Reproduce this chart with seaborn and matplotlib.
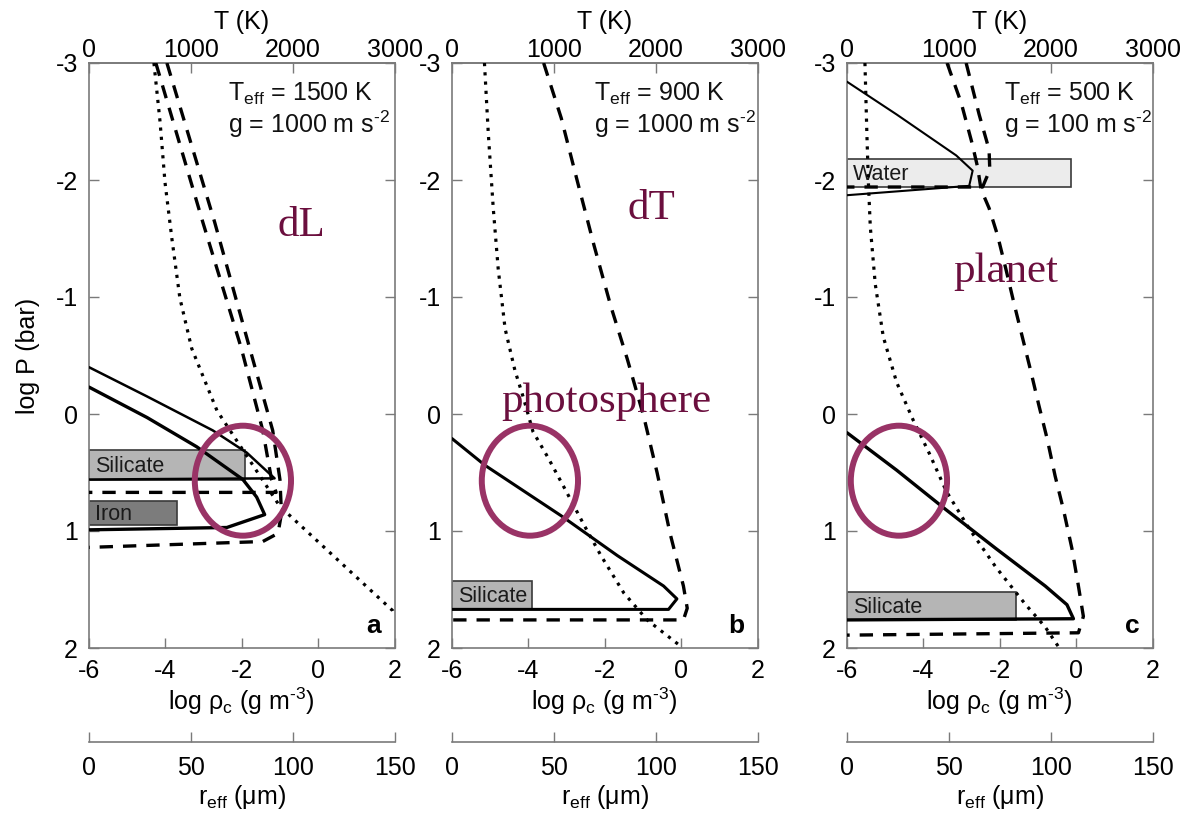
import matplotlib
matplotlib.use("Agg")
import matplotlib.pyplot as plt
import seaborn as sns
from matplotlib.patches import Ellipse, Rectangle

sns.set_style("ticks")
plt.rcParams["font.family"] = ["Liberation Sans", "DejaVu Sans"]
plt.rcParams["mathtext.fontset"] = "custom"
plt.rcParams["mathtext.rm"] = "Liberation Sans"
plt.rcParams["mathtext.it"] = "Liberation Sans:italic"
plt.rcParams["mathtext.bf"] = "Liberation Sans:bold"
plt.rcParams["axes.unicode_minus"] = False
plt.rcParams["text.color"] = "black"
plt.rcParams["axes.labelcolor"] = "black"

# ---------------- data (x = log rho_c, y = log P) ----------------
# panel a  (Teff = 1500 K, g = 1000)
a_dot_x = [-4.30, -4.14, -4.01, -3.83, -3.62, -3.31, -2.65, -1.00, 1.95, 2.00]
a_dot_y = [-3.00, -2.50, -1.98, -1.50, -0.99, -0.56, -0.03, 0.79, 1.68, 1.72]
a_dash1_x = [-4.25, -3.02, -2.01, -1.45, -1.22, -1.10, -6.00]
a_dash1_y = [-3.00, -1.64, -0.56, 0.14, 0.56, 0.67, 0.67]
a_dash2_x = [-3.96, -2.71, -1.79, -1.19, -1.00, -0.96, -1.05, -1.45, -6.00]
a_dash2_y = [-3.00, -1.64, -0.56, 0.14, 0.56, 0.85, 1.02, 1.09, 1.14]
a_sol1_x = [-6.00, -4.48, -2.76, -1.87, -1.14, -6.00]
a_sol1_y = [-0.40, -0.15, 0.14, 0.33, 0.55, 0.56]
a_sol2_x = [-6.00, -4.48, -3.18, -1.97, -1.61, -1.40, -2.39, -6.00]
a_sol2_y = [-0.23, 0.03, 0.28, 0.56, 0.71, 0.86, 0.97, 0.99]

# panel b  (Teff = 900 K, g = 1000)
b_dot_x = [-5.15, -5.05, -4.92, -4.79, -4.61, -4.35, -4.14, -3.88, -3.49, -3.06, -2.54, -2.10, -1.50, -0.89, -0.03]
b_dot_y = [-3.00, -2.40, -1.76, -1.24, -0.73, -0.37, -0.15, 0.15, 0.37, 0.63, 0.95, 1.21, 1.53, 1.76, 1.98]
b_dash_x = [-3.60, -3.14, -2.71, -2.28, -1.84, -1.41, -0.98, -0.63, -0.29, 0.06, 0.16, 0.06, -6.00]
b_dash_y = [-3.00, -2.53, -1.98, -1.44, -0.92, -0.47, 0.02, 0.50, 1.02, 1.47, 1.66, 1.76, 1.76]
b_sol_x = [-6.00, -5.13, -3.14, -1.67, -0.46, -0.11, -0.33, -6.00]
b_sol_y = [0.21, 0.44, 0.87, 1.21, 1.47, 1.58, 1.67, 1.67]

# panel c  (Teff = 500 K, g = 100)
c_dot_x = [-5.53, -5.48, -5.44, -5.39, -5.26, -5.05, -4.70, -4.27, -3.84, -3.40, -2.80, -2.10, -1.32, -0.81, -0.44]
c_dot_y = [-3.00, -2.40, -1.98, -1.60, -1.11, -0.66, -0.27, 0.05, 0.34, 0.66, 0.98, 1.31, 1.63, 1.82, 2.00]
c_dash1_x = [-3.38, -3.01, -2.73, -2.58, -2.49, -2.28, -2.06, -1.84, -1.63, -1.41, -1.19, -0.98, -0.76, -0.55, -0.33, -0.11, 0.06, 0.19, 0.06, -6.00]
c_dash1_y = [-3.00, -2.66, -2.32, -2.11, -1.92, -1.76, -1.53, -1.24, -0.95, -0.66, -0.37, -0.08, 0.21, 0.53, 0.82, 1.15, 1.47, 1.73, 1.87, 1.89]
c_dash2_x = [-2.88, -2.54, -2.28, -2.26, -2.32, -2.45, -6.00]
c_dash2_y = [-3.00, -2.56, -2.26, -2.08, -2.04, -1.94, -1.94]
c_sol1_x = [-6.00, -4.70, -3.14, -2.71, -2.80, -6.00]
c_sol1_y = [-2.84, -2.56, -2.21, -2.08, -1.95, -1.87]
c_sol2_x = [-6.00, -4.70, -3.40, -2.10, -0.81, -0.24, -0.07, -6.00]
c_sol2_y = [0.16, 0.48, 0.82, 1.15, 1.47, 1.63, 1.75, 1.76]

# condensate boxes: (label, x_right, y_top, y_bottom)
a_boxes = [("Silicate", -1.92, 0.31, 0.56), ("Iron", -3.70, 0.74, 0.95)]
b_boxes = [("Silicate", -3.90, 1.43, 1.67)]
c_boxes = [("Water", -0.14, -2.18, -1.94), ("Silicate", -1.57, 1.52, 1.76)]
box_colors = {"Silicate": "#b5b5b5", "Iron": "#7c7c7c", "Water": "#ececec"}

teff_labels = ["1500", "900", "500"]
g_labels = ["1000", "1000", "100"]
panel_letters = ["a", "b", "c"]
overlay_words = ["dL", "dT", "planet"]

y_ticks = [-3, -2, -1, 0, 1, 2]
x_ticks = [-6, -4, -2, 0, 2]
T_ticks = [0, 1000, 2000, 3000]
r_ticks = [0, 50, 100, 150]

# ---------------- figure ----------------
W, H = 1185, 818
fig = plt.figure(figsize=(W / 100, H / 100), dpi=100)
GRAY = "#7a7a7a"
MAROON_LINE = "#993366"
MAROON_TEXT = "#6b0f3e"
HYPH = "\u2010"

lefts = [89, 452, 847]
width_px = 305.5
top_px, bot_px = 63, 648

panels = [
    dict(dots=[(a_dot_x, a_dot_y)],
         dashes=[(a_dash1_x, a_dash1_y), (a_dash2_x, a_dash2_y)],
         solids=[(a_sol1_x, a_sol1_y, 1.8), (a_sol2_x, a_sol2_y, 2.4)],
         boxes=a_boxes, tx=-2.37, ell=(-1.97, 0.57)),
    dict(dots=[(b_dot_x, b_dot_y)],
         dashes=[(b_dash_x, b_dash_y)],
         solids=[(b_sol_x, b_sol_y, 2.2)],
         boxes=b_boxes, tx=-2.29, ell=(-3.96, 0.57)),
    dict(dots=[(c_dot_x, c_dot_y)],
         dashes=[(c_dash1_x, c_dash1_y), (c_dash2_x, c_dash2_y)],
         solids=[(c_sol1_x, c_sol1_y, 1.5), (c_sol2_x, c_sol2_y, 2.4)],
         boxes=c_boxes, tx=-1.90, ell=(-4.64, 0.57)),
]
word_pos = {"dL": (-0.44, -1.52), "dT": (-0.78, -1.67), "planet": (-1.84, -1.13)}

FS = 18

for i, p in enumerate(panels):
    ax = fig.add_axes([lefts[i] / W, 1 - bot_px / H, width_px / W, (bot_px - top_px) / H])
    ax.set_xlim(-6, 2)
    ax.set_ylim(2, -3)

    # boxes
    for lab, xr, yt, yb in p["boxes"]:
        ax.add_patch(Rectangle((-6, yt), xr + 6, yb - yt, facecolor=box_colors[lab],
                               edgecolor="#3a3a3a", lw=1.2, zorder=1))
        ax.text(-5.84, (yt + yb) / 2 + 0.01, lab, fontsize=15.5, va="center", ha="left",
                color="#1a1a1a", zorder=2)

    for xs, ys in p["dots"]:
        sns.lineplot(x=xs, y=ys, ax=ax, sort=False, estimator=None, color="black",
                     lw=2.3, linestyle=(0, (1, 1.9)), legend=False, zorder=3)
    for xs, ys in p["dashes"]:
        sns.lineplot(x=xs, y=ys, ax=ax, sort=False, estimator=None, color="black",
                     lw=2.4, linestyle=(0, (4, 3)), legend=False, zorder=3)
    for xs, ys, lw in p["solids"]:
        sns.lineplot(x=xs, y=ys, ax=ax, sort=False, estimator=None, color="black",
                     lw=lw, linestyle="-", legend=False, zorder=3)

    # annotations
    ax.text(p["tx"], -2.68, r"T$_{\mathrm{eff}}$ = " + teff_labels[i] + " K", fontsize=18,
            ha="left", va="baseline", color="#111111")
    ax.text(p["tx"], -2.40, "g = " + g_labels[i] + " m s$^{" + HYPH + "2}$", fontsize=18,
            ha="left", va="baseline", color="#111111")
    ax.text(0.957, 0.026, panel_letters[i], transform=ax.transAxes, fontsize=19,
            fontweight="bold", ha="right", va="baseline")

    ax.add_patch(Ellipse(p["ell"], 2.52, 0.94, fill=False, edgecolor=MAROON_LINE,
                         lw=4.3, zorder=5))

    # ticks / spines
    ax.set_xticks(x_ticks)
    ax.set_yticks(y_ticks)
    ax.set_yticklabels([str(t) for t in y_ticks])
    ax.set_xticklabels([str(t) for t in x_ticks])
    ax.tick_params(direction="in", length=7, width=1, color=GRAY, labelsize=FS,
                   labelcolor="black", left=True, right=True, bottom=True, top=False, pad=8)
    for s in ax.spines.values():
        s.set_color(GRAY)
        s.set_linewidth(1.2)
        s.set_visible(True)
    ax.set_xlabel("log ρ$_{\\mathrm{c}}$ (g m$^{" + HYPH + "3}$)", fontsize=FS, labelpad=2)
    if i == 0:
        ax.set_ylabel("log P (bar)", fontsize=FS, labelpad=11)
    else:
        ax.set_ylabel("")

    sec = ax.secondary_xaxis("top", functions=(lambda x: (x + 6) * 375.0,
                                               lambda T: T / 375.0 - 6))
    sec.set_xticks(T_ticks)
    sec.set_xticklabels([str(t) for t in T_ticks])
    sec.tick_params(direction="in", length=7, width=1, color=GRAY, labelsize=FS,
                    labelcolor="black", pad=1)
    sec.spines["top"].set_color(GRAY)
    sec.spines["top"].set_linewidth(1.2)
    sec.set_xlabel("T (K)", fontsize=FS, labelpad=6)

    # overlay words
    word = overlay_words[i]
    pos = word_pos[word]
    ax.text(pos[0], pos[1], word, fontsize=31, family="Liberation Serif",
            color=MAROON_TEXT, ha="center", va="baseline", zorder=6)
    if i == 1:
        ax.text(-1.97, -0.02, "photosphere", fontsize=31, family="Liberation Serif",
                color=MAROON_TEXT, ha="center", va="baseline", zorder=6)

    # r_eff axis
    rax = fig.add_axes([lefts[i] / W, 1 - 742 / H, width_px / W, 0.0005])
    rax.set_facecolor("none")
    for s in ["top", "left", "right"]:
        rax.spines[s].set_visible(False)
    rax.spines["bottom"].set_color(GRAY)
    rax.spines["bottom"].set_linewidth(1.2)
    rax.set_xlim(0, 150)
    rax.set_xticks(r_ticks)
    rax.set_xticklabels([str(t) for t in r_ticks])
    rax.set_yticks([])
    rax.tick_params(axis="x", direction="in", length=7, width=1, color=GRAY,
                    labelsize=FS, labelcolor="black", pad=10)
    rax.set_xlabel(r"r$_{\mathrm{eff}}$ (μm)", fontsize=FS, labelpad=2)

fig.savefig("out.png", dpi=100, facecolor="white")
